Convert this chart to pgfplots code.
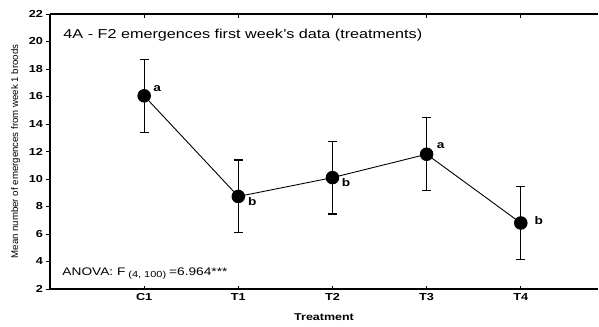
\documentclass[border=0pt]{standalone}
\usepackage{fontspec}
\setmainfont{Liberation Sans}[FakeStretch=1.25]
\newfontfamily\plainlabel{Liberation Sans}
\usepackage{pgfplots}
\usepackage{pgfplotstable}
\pgfplotsset{compat=1.18}

% mean emergences per treatment with +/- error
\pgfplotstableread{
x y err
0 16.05 2.65
1 8.73 2.65
2 10.10 2.65
3 11.80 2.65
4 6.80 2.65
}\emergences

\begin{document}
\begin{tikzpicture}
\begin{axis}[
  name=ax,
  scale only axis,
  width=548bp, height=275bp,
  xmin=-1, xmax=4.82,
  ymin=2, ymax=22,
  clip=false,
  axis x line=box, axis y line=left,
  y axis line style={-},
  axis line style={line width=1.2bp, black},
  xtick={0,1,2,3,4},
  xticklabels={C1,T1,T2,T3,T4},
  ytick={2,4,...,22},
  x tick style={line width=0.9bp, black},
  y tick style={line width=0.9bp, black},
  xtick align=inside,
  ytick align=outside,
  major tick length=3.5bp,
  /pgf/number format/assume math mode=true,
  tick label style={font=\fontsize{10.2}{12}\bfseries\selectfont},
  xticklabel style={yshift=-1bp},
  xlabel={Treatment},
  xlabel style={font=\fontsize{10}{12}\bfseries\selectfont, yshift=-6bp},
  ylabel={Mean number of emergences from week 1 broods},
  ylabel style={font=\plainlabel\fontsize{9.7}{11}\selectfont, yshift=2bp},
]
\addplot[black, line width=0.9bp, mark=*, mark size=6.3bp,
  error bars/.cd, y dir=both, y explicit,
  error bar style={line width=1.2bp},
  error mark options={rotate=90, mark size=4.5bp, line width=1.2bp}]
  table[x=x, y=y, y error=err] {\emergences};

\node[anchor=base west, font=\fontsize{13}{15}\selectfont, inner sep=0pt]
  at (axis cs:-1,20.23) [xshift=13.3bp] {4A - F2 emergences first week's data (treatments)};
\node[anchor=base west, font=\fontsize{11}{13}\selectfont, inner sep=0pt]
  at (axis cs:-1,2.99) [xshift=12.3bp]
  {ANOVA: F\hspace{3bp}\raisebox{-2.5bp}{\fontsize{8.8}{10}\selectfont (4, 100)}\hspace{3bp}=6.964***};

\begin{scope}[font=\fontsize{11}{13}\bfseries\selectfont]
\node at (axis cs:0,16.05) [xshift=13bp, yshift=7bp] {a};
\node at (axis cs:1,8.73) [xshift=14bp, yshift=-5.5bp] {b};
\node at (axis cs:2,10.10) [xshift=13.7bp, yshift=-5bp] {b};
\node at (axis cs:3,11.80) [xshift=14bp, yshift=9bp] {a};
\node at (axis cs:4,6.80) [xshift=18bp, yshift=2.7bp] {b};
\end{scope}
\end{axis}
\pgfresetboundingbox
\path ([shift={(-50bp,-38bp)}]ax.south west) rectangle ([shift={(549bp,14bp)}]ax.north west);
\end{tikzpicture}
\end{document}
